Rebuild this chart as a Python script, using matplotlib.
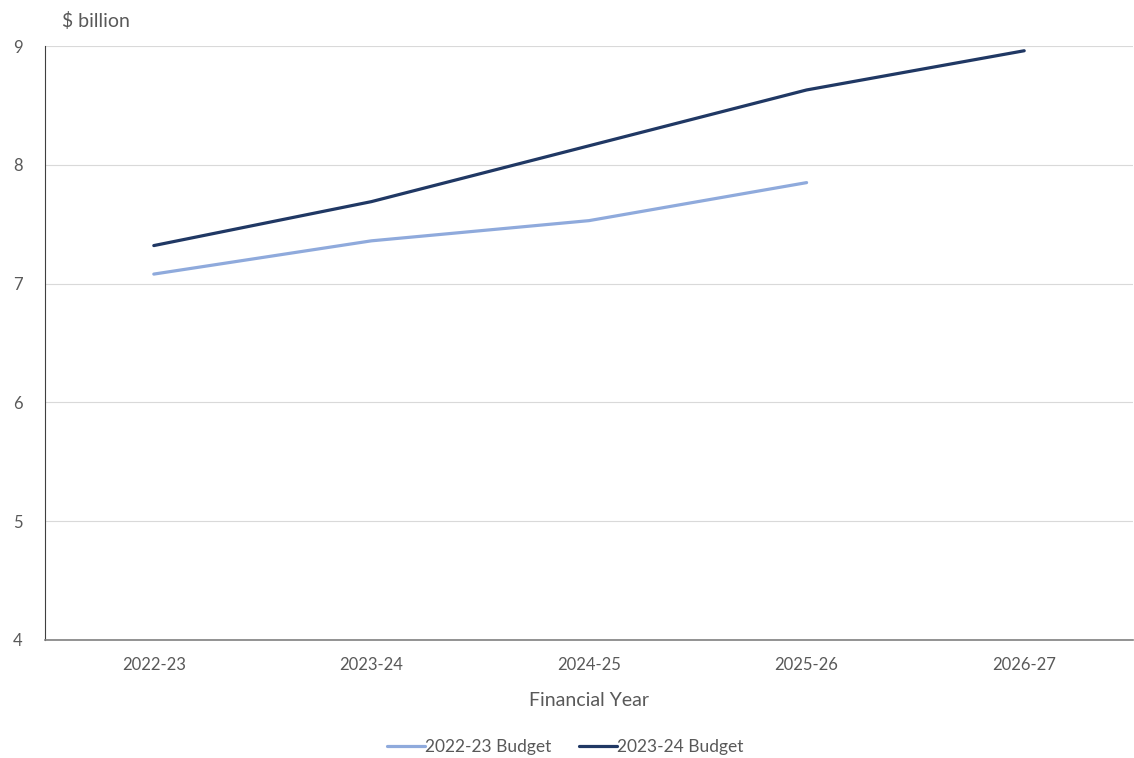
import matplotlib.pyplot as plt
import numpy as np

years = ['2022-23', '2023-24', '2024-25', '2025-26', '2026-27']
budget_2223 = [7.08, 7.36, 7.53, 7.85]
budget_2324 = [7.32, 7.69, 8.16, 8.63, 8.96]

plt.rcParams['font.family'] = ['Lato', 'DejaVu Sans']
txt = '#595959'

fig = plt.figure(figsize=(11.34, 7.58), dpi=100)
ax = fig.add_axes([45/1134, 1 - 640/758, 1088/1134, (640 - 46)/758])

x = np.arange(len(years))
ax.plot(x[:len(budget_2223)], budget_2223, color='#8FAADC', lw=2.3,
        solid_capstyle='round', label='2022-23 Budget')
ax.plot(x, budget_2324, color='#203864', lw=2.3,
        solid_capstyle='round', label='2023-24 Budget')

ax.set_xlim(-0.5, len(years) - 0.5)
ax.set_ylim(4, 9)
ax.set_yticks(range(4, 10))
ax.set_xticks(x)
ax.set_xticklabels(years)
ax.grid(axis='y', color='#d9d9d9', lw=0.8)
ax.set_axisbelow(True)
for s in ['top', 'right']:
    ax.spines[s].set_visible(False)
ax.spines['left'].set_color('#404040')
ax.spines['bottom'].set_color('#808080')
ax.spines['bottom'].set_linewidth(1.2)
ax.tick_params(length=0, colors=txt, labelsize=12)
ax.tick_params(axis='x', pad=12)
ax.tick_params(axis='y', pad=16)
ax.set_xlabel('Financial Year', color=txt, fontsize=14, labelpad=14)

fig.text(62/1134, 1 - 21/758, '$ billion', color=txt, fontsize=14, va='center', ha='left')

ax.legend(loc='center', bbox_to_anchor=(565/1134, 1 - 747/758),
          bbox_transform=fig.transFigure, ncol=2, frameon=False,
          handlelength=2.2, handletextpad=0.0, columnspacing=1.6,
          fontsize=12.5, labelcolor=txt)

fig.savefig('out.png', dpi=100, facecolor='white')
